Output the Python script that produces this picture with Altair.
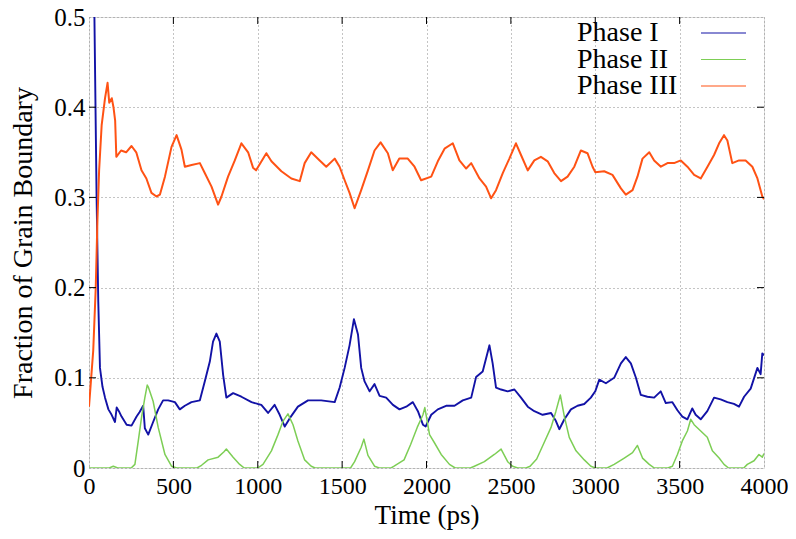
import altair as alt
import pandas as pd

series_names = ["Phase I", "Phase II", "Phase III"]
series_colors = ["#1212a6", "#7dce55", "#ff5214"]

x_ticks = [0, 500, 1000, 1500, 2000, 2500, 3000, 3500, 4000]
y_ticks = [0, 0.1, 0.2, 0.3, 0.4, 0.5]

# Phase I (blue)
p1_t = [0, 45, 55, 65, 80, 95, 115, 134, 154, 164, 180, 193, 223, 252, 282, 300, 321, 331, 351,
        380, 410, 439, 469, 509, 538, 568, 607, 657, 686, 716, 735, 755, 775, 795, 814, 854, 903,
        963, 1000, 1021, 1061, 1100, 1130, 1160, 1189, 1238, 1298, 1376, 1456, 1485, 1515, 1544,
        1570, 1594, 1613, 1633, 1663, 1692, 1722, 1761, 1801, 1840, 1880, 1919, 1949, 1979, 1995,
        2028, 2067, 2116, 2166, 2215, 2265, 2294, 2333, 2373, 2392, 2412, 2442, 2481, 2521, 2560,
        2600, 2639, 2688, 2738, 2767, 2787, 2817, 2856, 2895, 2935, 2974, 3000, 3024, 3063, 3112,
        3152, 3181, 3211, 3241, 3270, 3309, 3349, 3388, 3418, 3457, 3487, 3516, 3546, 3575, 3595,
        3625, 3664, 3704, 3743, 3783, 3822, 3852, 3882, 3921, 3961, 3980, 3990, 4000]
p1_v = [1.0, 0.30, 0.184, 0.111, 0.090, 0.078, 0.065, 0.059, 0.051, 0.067, 0.062, 0.057, 0.048,
        0.047, 0.057, 0.062, 0.069, 0.044, 0.037, 0.051, 0.065, 0.075, 0.075, 0.073, 0.065, 0.069,
        0.073, 0.075, 0.096, 0.118, 0.140, 0.149, 0.140, 0.103, 0.078, 0.083, 0.079, 0.073, 0.071,
        0.070, 0.061, 0.070, 0.059, 0.046, 0.055, 0.068, 0.075, 0.075, 0.073, 0.089, 0.111, 0.136,
        0.165, 0.148, 0.111, 0.096, 0.085, 0.093, 0.080, 0.078, 0.070, 0.065, 0.068, 0.073, 0.063,
        0.048, 0.046, 0.059, 0.065, 0.069, 0.069, 0.075, 0.078, 0.101, 0.107, 0.136, 0.116, 0.089,
        0.087, 0.085, 0.087, 0.078, 0.068, 0.063, 0.059, 0.061, 0.052, 0.043, 0.054, 0.065, 0.069,
        0.071, 0.078, 0.085, 0.098, 0.094, 0.100, 0.116, 0.123, 0.116, 0.100, 0.081, 0.079, 0.078,
        0.085, 0.072, 0.073, 0.064, 0.057, 0.054, 0.066, 0.059, 0.054, 0.063, 0.078, 0.076, 0.073,
        0.071, 0.068, 0.079, 0.088, 0.111, 0.104, 0.127, 0.125]

# Phase II (green)
p2_t = [0, 120, 144, 170, 250, 272, 292, 312, 331, 345, 351, 380, 410, 450, 489, 520, 640, 667,
        706, 765, 800, 814, 854, 893, 920, 1000, 1031, 1081, 1120, 1150, 1179, 1209, 1238, 1278,
        1317, 1340, 1550, 1574, 1613, 1629, 1653, 1692, 1720, 1790, 1808, 1867, 1906, 1945, 1979,
        1990, 2018, 2047, 2087, 2136, 2170, 2260, 2284, 2343, 2402, 2442, 2481, 2510, 2540, 2590,
        2614, 2653, 2692, 2738, 2767, 2793, 2817, 2846, 2886, 2935, 2974, 3000, 3070, 3112, 3172,
        3221, 3250, 3280, 3320, 3350, 3430, 3457, 3487, 3516, 3546, 3566, 3586, 3625, 3664, 3694,
        3734, 3763, 3790, 3880, 3901, 3941, 3970, 3990, 4000]
p2_v = [0.0, 0.0, 0.002, 0.0, 0.0, 0.004, 0.030, 0.057, 0.078, 0.092, 0.090, 0.074, 0.045, 0.015,
        0.002, 0.0, 0.0, 0.003, 0.009, 0.012, 0.018, 0.021, 0.012, 0.004, 0.0, 0.0, 0.004, 0.019,
        0.037, 0.052, 0.060, 0.048, 0.030, 0.009, 0.002, 0.0, 0.0, 0.007, 0.023, 0.032, 0.014,
        0.002, 0.0, 0.0, 0.002, 0.009, 0.026, 0.045, 0.059, 0.067, 0.037, 0.028, 0.015, 0.004, 0.0,
        0.0, 0.002, 0.007, 0.015, 0.021, 0.007, 0.002, 0.0, 0.0, 0.002, 0.010, 0.026, 0.045, 0.063,
        0.081, 0.057, 0.034, 0.019, 0.009, 0.002, 0.0, 0.0, 0.004, 0.011, 0.017, 0.025, 0.011,
        0.004, 0.0, 0.0, 0.002, 0.015, 0.030, 0.041, 0.054, 0.048, 0.041, 0.034, 0.019, 0.011,
        0.004, 0.0, 0.0, 0.004, 0.008, 0.015, 0.012, 0.016]

# Phase III (orange)
p3_t = [0, 25, 40, 50, 60, 75, 95, 110, 120, 135, 145, 155, 162, 190, 220, 252, 280, 311, 340,
        370, 400, 420, 450, 489, 519, 548, 568, 608, 657, 686, 726, 765, 785, 824, 864, 903, 943,
        972, 990, 1051, 1081, 1140, 1199, 1249, 1278, 1317, 1367, 1406, 1456, 1485, 1515, 1544,
        1574, 1613, 1653, 1692, 1728, 1771, 1800, 1839, 1889, 1929, 1968, 2028, 2067, 2107, 2156,
        2195, 2235, 2265, 2314, 2353, 2383, 2412, 2452, 2491, 2530, 2560, 2600, 2639, 2678, 2718,
        2757, 2797, 2836, 2876, 2915, 2954, 2984, 3000, 3053, 3102, 3152, 3181, 3221, 3250, 3280,
        3320, 3349, 3389, 3428, 3467, 3507, 3546, 3586, 3625, 3665, 3704, 3734, 3763, 3783, 3812,
        3852, 3891, 3931, 3961, 3990, 4000]
p3_v = [0.068, 0.13, 0.20, 0.275, 0.33, 0.38, 0.41, 0.427, 0.405, 0.41, 0.40, 0.385, 0.345, 0.352,
        0.350, 0.357, 0.350, 0.330, 0.321, 0.305, 0.301, 0.303, 0.323, 0.356, 0.369, 0.353, 0.334,
        0.336, 0.338, 0.327, 0.312, 0.292, 0.301, 0.323, 0.341, 0.360, 0.350, 0.333, 0.330, 0.349,
        0.340, 0.329, 0.321, 0.318, 0.338, 0.350, 0.341, 0.334, 0.343, 0.334, 0.319, 0.305, 0.288,
        0.308, 0.330, 0.352, 0.361, 0.349, 0.330, 0.343, 0.343, 0.334, 0.319, 0.323, 0.340, 0.354,
        0.360, 0.341, 0.332, 0.338, 0.321, 0.312, 0.299, 0.308, 0.327, 0.343, 0.360, 0.347, 0.330,
        0.341, 0.345, 0.340, 0.327, 0.318, 0.323, 0.334, 0.352, 0.349, 0.334, 0.328, 0.329, 0.325,
        0.310, 0.303, 0.308, 0.323, 0.343, 0.350, 0.341, 0.334, 0.338, 0.338, 0.341, 0.334, 0.325,
        0.321, 0.334, 0.347, 0.360, 0.369, 0.363, 0.338, 0.341, 0.341, 0.334, 0.321, 0.301, 0.298]

W, H = 675, 451
FONT = "Liberation Serif"
TICK = 7

series = [(series_names[0], p1_t, p1_v, 1.9), (series_names[1], p2_t, p2_v, 1.5),
          (series_names[2], p3_t, p3_v, 2.0)]

xscale = alt.Scale(domain=[0, 4000], nice=False, zero=False)
yscale = alt.Scale(domain=[0, 0.5], nice=False, zero=False)

x_axis = alt.Axis(values=x_ticks, title="Time (ps)", grid=True, gridDash=[1, 3], gridColor="#888888",
                  gridWidth=1, tickSize=0, domain=False, labelFont=FONT, labelFontSize=24,
                  labelColor="black", labelPadding=6, titleFont=FONT, titleFontSize=27,
                  titleFontWeight="normal", titleColor="black", titlePadding=4, labelFlush=False,
                  format="d")
y_axis = alt.Axis(values=y_ticks, title="Fraction of Grain Boundary", grid=True, gridDash=[1, 3],
                  gridColor="#888888", gridWidth=1, tickSize=0, domain=False, labelFont=FONT,
                  labelFontSize=25, labelColor="black", labelPadding=4, titleFont=FONT,
                  titleFontSize=28, titleFontWeight="normal", titleColor="black", titlePadding=16,
                  labelFlush=False, format=".1~f")


def X(field):
    return alt.X(field, scale=xscale, axis=x_axis)


def Y(field):
    return alt.Y(field, scale=yscale, axis=y_axis)


layers = []
for (name, ts, vs, sw), col in zip(series, series_colors):
    d = pd.DataFrame({"t": ts, "v": vs, "series": name})
    layers.append(
        alt.Chart(d).mark_line(color=col, strokeWidth=sw, clip=True, strokeJoin="round").encode(
            x=X("t:Q"), y=Y("v:Q"),
        )
    )

xt = pd.DataFrame({"t": x_ticks[1:-1]})
yt = pd.DataFrame({"v": y_ticks[1:-1]})
layers.append(alt.Chart(xt).mark_rule(color="black", strokeWidth=1).encode(
    x=X("t:Q"), y=alt.value(H), y2=alt.value(H - TICK)))
layers.append(alt.Chart(xt).mark_rule(color="black", strokeWidth=1).encode(
    x=X("t:Q"), y=alt.value(0), y2=alt.value(TICK)))
layers.append(alt.Chart(yt).mark_rule(color="black", strokeWidth=1).encode(
    y=Y("v:Q"), x=alt.value(0), x2=alt.value(TICK)))
layers.append(alt.Chart(yt).mark_rule(color="black", strokeWidth=1).encode(
    y=Y("v:Q"), x=alt.value(W), x2=alt.value(W - TICK)))

# legend (gnuplot style: label then line sample)
for i, (name, col) in enumerate(zip(series_names, series_colors)):
    yy = 16 + 26.5 * i
    ld = pd.DataFrame({"series": [name]})
    layers.append(alt.Chart(ld).mark_text(align="left", baseline="middle", font=FONT, fontSize=28,
                                          color="black").encode(
        text="series:N", x=alt.value(488), y=alt.value(yy)))
    layers.append(alt.Chart(ld).mark_rule(color=col, strokeWidth=1.2).encode(
        x=alt.value(612), x2=alt.value(657), y=alt.value(yy)))

chart = alt.layer(*layers).properties(
    width=W, height=H,
    autosize=alt.AutoSizeParams(type="none"),
    padding={"left": 81, "top": 9, "right": 24, "bottom": 63},
).configure_view(stroke="black", strokeWidth=1.2).configure(background="white")

chart.save("out.html", embed_options={"renderer": "svg", "actions": False})
